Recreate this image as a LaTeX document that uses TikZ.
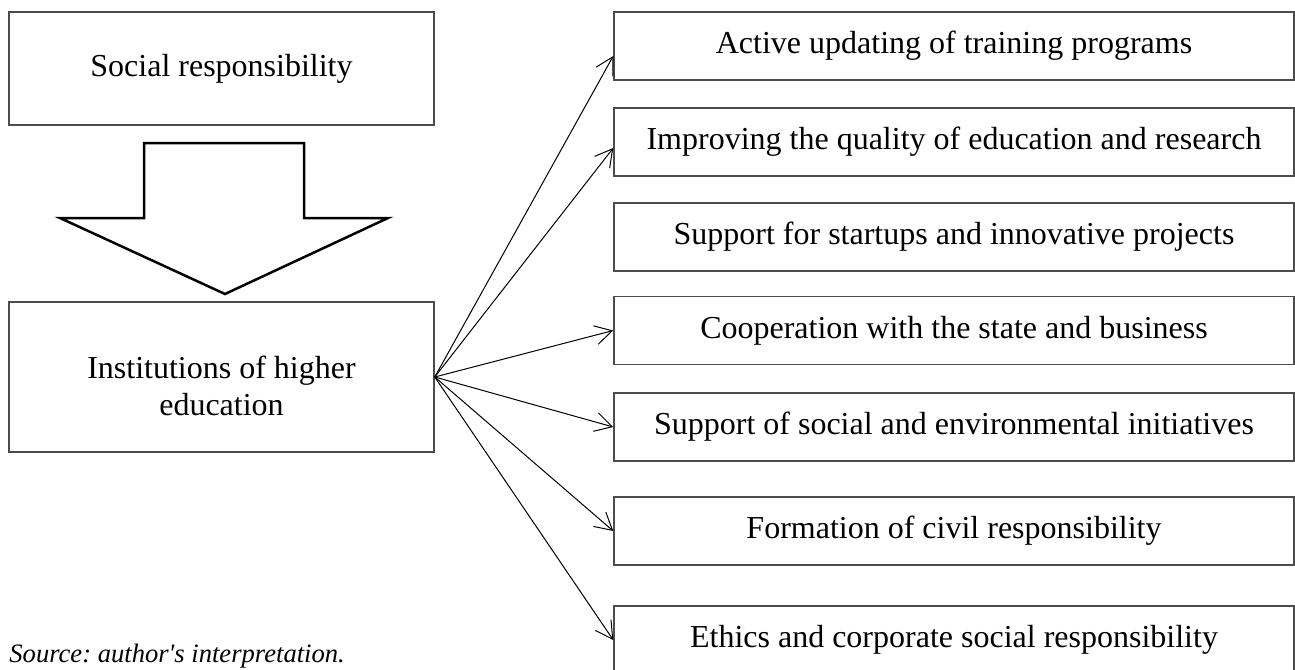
\documentclass[tikz,border=0pt]{standalone}
\usepackage{fontspec}
\setmainfont{Liberation Serif}
\usetikzlibrary{arrows.meta}
\frenchspacing

\tikzset{
  box/.style={draw=black!70, line width=0.75pt, rectangle, inner sep=0pt,
    font=\fontsize{16}{18.4}\selectfont, align=center},
  leftbox/.style={box, minimum width=212.5pt},
  itembox/.style={box, minimum width=340pt, minimum height=34pt},
  conn/.style={draw=black, line width=0.5pt,
    -{Straight Barb[length=8.5pt, width=9.5pt, line width=0.5pt]}},
  bigarrow/.style={draw=black, line width=1.25pt, line join=miter, fill=white}
}

\begin{document}
\begin{tikzpicture}[x=0.5pt, y=-0.5pt]
  \useasboundingbox (0,0) rectangle (1295,669);

  % left column
  \node[leftbox, minimum height=56.5pt] (soc) at (221.5,68.5) {Social responsibility};
  \node[leftbox, minimum height=75pt] (hei) at (221.5,377)
    {\rule{0pt}{20pt}Institutions of higher\\education};

  % block arrow between the two left boxes
  \draw[bigarrow] (144,143) -- (304,143) -- (304,218) -- (388,218)
    -- (225,294) -- (60,218) -- (144,218) -- cycle;

  % right column
  \node[itembox] (r1) at (954,46)    {Active updating of training programs};
  \node[itembox] (r2) at (954,142)   {Improving the quality of education and research};
  \node[itembox] (r3) at (954,237)   {Support for startups and innovative projects};
  \node[itembox] (r4) at (954,330.5) {Cooperation with the state and business};
  \node[itembox] (r5) at (954,427)   {Support of social and environmental initiatives};
  \node[itembox] (r6) at (954,531)   {Formation of civil responsibility};
  \node[itembox] (r7) at (954,640)   {Ethics and corporate social responsibility};

  % connectors
  \draw[conn] (hei.east) -- ([yshift=-5pt]r1.west);
  \draw[conn] (hei.east) -- ([yshift=-3pt]r2.west);
  \draw[conn] (hei.east) -- (r4.west);
  \draw[conn] (hei.east) -- (r5.west);
  \draw[conn] (hei.east) -- (r6.west);
  \draw[conn] (hei.east) -- (r7.west);

  % source note
  \node[anchor=base west, inner sep=0pt, font=\fontsize{13.3}{16}\selectfont\itshape]
    (src) at (9,662) {Source: author\textquotesingle s interpretation.};
\end{tikzpicture}
\end{document}
